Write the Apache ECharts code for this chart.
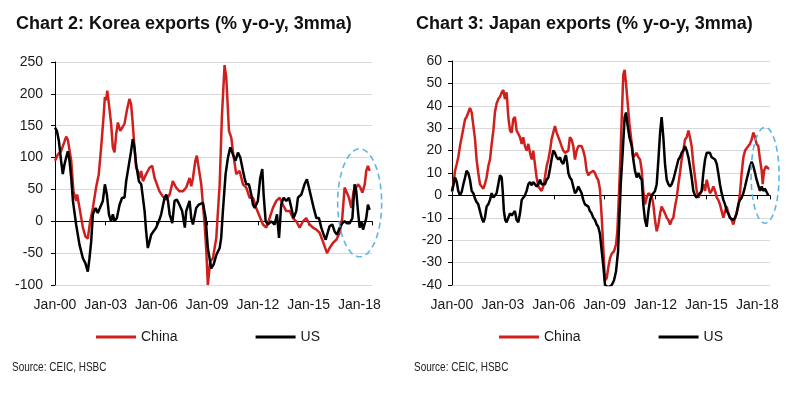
<!DOCTYPE html>
<html>
<head>
<meta charset="utf-8">
<script src="https://cdn.jsdelivr.net/npm/echarts@6/dist/echarts.min.js"></script>
<style>
  html, body { margin: 0; padding: 0; background: #fff; }
  #main { width: 800px; height: 396px; }
</style>
</head>
<body>
<div id="main"></div>
<script>
// tick labels on the time axis (Jan of each year)
var tickYears = [2000, 2003, 2006, 2009, 2012, 2015, 2018];

// Chart 2: Korea exports, [year, % y-o-y 3mma]
var koreaChina = [
  [2000.0,95],[2000.17,105],[2000.36,110],[2000.56,125],[2000.66,133],[2000.76,128],[2000.96,95],
  [2001.09,47],[2001.25,32],[2001.31,42],[2001.45,21],[2001.65,-10],[2001.8,-24],[2001.94,-27],
  [2002.08,0],[2002.24,21],[2002.43,53],[2002.59,74],[2002.73,116],[2002.87,163],[2002.95,195],
  [2003.03,190],[2003.09,205],[2003.19,184],[2003.32,153],[2003.42,116],[2003.52,108],[2003.62,137],
  [2003.72,155],[2003.86,142],[2003.97,145],[2004.11,153],[2004.25,174],[2004.4,192],[2004.5,184],
  [2004.6,153],[2004.7,116],[2004.8,84],[2004.9,79],[2005.0,68],[2005.1,79],[2005.2,63],[2005.39,74],
  [2005.59,84],[2005.75,87],[2005.89,68],[2006.03,58],[2006.18,47],[2006.38,39],[2006.58,34],
  [2006.78,42],[2006.97,63],[2007.07,60],[2007.16,53],[2007.36,47],[2007.56,47],[2007.76,53],
  [2007.96,68],[2008.06,55],[2008.16,68],[2008.3,95],[2008.39,103],[2008.65,58],[2008.85,-5],
  [2008.95,-47],[2009.04,-100],[2009.18,-63],[2009.34,-58],[2009.54,-26],[2009.74,58],[2009.87,163],
  [2010.03,245],[2010.13,226],[2010.29,142],[2010.43,131],[2010.52,110],[2010.72,74],[2010.92,79],
  [2011.12,58],[2011.31,53],[2011.51,37],[2011.71,37],[2011.9,21],[2012.1,8],[2012.3,-5],[2012.5,-10],
  [2012.69,5],[2012.89,21],[2013.09,32],[2013.29,37],[2013.48,26],[2013.68,16],[2013.88,16],
  [2014.07,5],[2014.27,0],[2014.47,-10],[2014.67,0],[2014.86,5],[2015.06,-5],[2015.26,-10],
  [2015.46,-13],[2015.65,-18],[2015.85,-32],[2016.09,-50],[2016.24,-42],[2016.44,-34],[2016.64,-29],
  [2016.84,-18],[2016.99,5],[2017.13,53],[2017.23,55],[2017.39,37],[2017.53,21],[2017.66,47],
  [2017.82,53],[2017.92,58],[2018.06,53],[2018.18,45],[2018.32,58],[2018.41,79],[2018.51,87],[2018.61,79]
];
var koreaUS = [
  [2000.0,147],[2000.11,142],[2000.23,126],[2000.36,95],[2000.46,74],[2000.56,89],[2000.66,100],
  [2000.76,110],[2000.86,95],[2000.96,68],[2001.06,32],[2001.25,-5],[2001.45,-37],[2001.65,-58],
  [2001.8,-66],[2001.94,-79],[2002.04,-58],[2002.14,-32],[2002.24,11],[2002.4,21],[2002.53,13],
  [2002.63,11],[2002.83,32],[2002.95,58],[2003.07,42],[2003.19,11],[2003.32,0],[2003.42,11],
  [2003.52,0],[2003.66,5],[2003.82,26],[2003.97,37],[2004.11,37],[2004.21,63],[2004.37,89],
  [2004.5,110],[2004.6,129],[2004.7,116],[2004.8,89],[2004.96,63],[2005.1,58],[2005.2,37],
  [2005.3,16],[2005.39,-16],[2005.49,-42],[2005.59,-32],[2005.69,-21],[2005.82,-16],[2005.98,-10],
  [2006.14,0],[2006.28,11],[2006.48,37],[2006.58,42],[2006.68,32],[2006.78,11],[2006.94,-3],
  [2007.07,32],[2007.21,34],[2007.36,26],[2007.52,16],[2007.68,-10],[2007.76,16],[2007.96,32],
  [2008.06,5],[2008.16,-5],[2008.35,21],[2008.5,26],[2008.75,29],[2008.91,5],[2009.04,-42],
  [2009.14,-58],[2009.24,-74],[2009.38,-68],[2009.54,-53],[2009.74,-42],[2009.83,-26],[2009.93,16],
  [2010.09,74],[2010.23,100],[2010.37,116],[2010.52,105],[2010.68,95],[2010.82,108],[2010.96,100],
  [2011.12,79],[2011.21,68],[2011.31,58],[2011.47,58],[2011.61,42],[2011.71,26],[2011.81,21],
  [2012.0,32],[2012.14,68],[2012.26,82],[2012.34,42],[2012.46,0],[2012.6,-5],[2012.79,0],
  [2012.99,-5],[2013.13,11],[2013.25,-26],[2013.38,26],[2013.52,37],[2013.68,32],[2013.84,37],
  [2013.98,21],[2014.11,5],[2014.27,16],[2014.37,37],[2014.57,42],[2014.76,58],[2014.9,66],
  [2015.02,53],[2015.16,37],[2015.3,21],[2015.46,5],[2015.61,5],[2015.75,-10],[2015.89,-21],
  [2016.01,-29],[2016.15,-16],[2016.24,-8],[2016.4,-5],[2016.54,-16],[2016.68,-21],[2016.84,-10],
  [2016.99,-3],[2017.13,0],[2017.27,-3],[2017.43,-3],[2017.59,5],[2017.72,58],[2017.82,47],
  [2017.92,16],[2018.02,-10],[2018.12,0],[2018.22,-13],[2018.32,-10],[2018.41,5],[2018.51,26],[2018.61,18]
];

// Chart 3: Japan exports, [year, % y-o-y 3mma]
var japanChina = [
  [2000.0,1.5],[2000.08,5],[2000.18,11],[2000.28,14],[2000.37,17],[2000.47,22],[2000.57,26],
  [2000.67,30],[2000.77,34],[2000.86,35],[2000.96,37],[2001.06,39],[2001.16,37],[2001.26,31],
  [2001.36,25],[2001.45,16],[2001.55,10],[2001.65,5],[2001.75,4],[2001.85,3],[2001.94,5],
  [2002.04,8],[2002.14,13],[2002.24,16],[2002.34,23],[2002.44,29],[2002.53,37],[2002.63,41],
  [2002.73,43],[2002.83,44],[2002.93,46],[2003.03,47],[2003.12,43],[2003.22,46],[2003.32,35],
  [2003.42,29],[2003.52,28],[2003.61,34],[2003.71,35],[2003.81,29],[2003.91,29],[2004.01,26],
  [2004.11,23],[2004.2,26],[2004.3,22],[2004.4,20],[2004.5,23],[2004.6,19],[2004.7,16],[2004.79,20],
  [2004.89,14],[2004.99,8],[2005.09,4],[2005.19,4],[2005.28,2],[2005.38,4],[2005.48,8],[2005.58,13],
  [2005.68,16],[2005.78,20],[2005.87,25],[2005.97,28],[2006.07,31],[2006.17,28],[2006.27,26],
  [2006.37,24],[2006.46,22],[2006.56,20],[2006.66,19],[2006.76,19],[2006.86,20],[2006.95,26],
  [2007.05,25],[2007.15,22],[2007.25,16],[2007.35,20],[2007.45,22],[2007.54,22],[2007.64,22],
  [2007.74,20],[2007.84,17],[2007.94,11],[2008.04,9],[2008.13,10],[2008.23,10],[2008.33,11],
  [2008.43,10],[2008.53,8],[2008.62,7],[2008.72,3],[2008.83,-10],[2008.93,-25],[2009.02,-38],
  [2009.12,-37],[2009.22,-32],[2009.32,-28],[2009.42,-26],[2009.55,-25],[2009.67,-22],[2009.75,-16],
  [2009.83,-2],[2009.91,13],[2010.01,35],[2010.1,54],[2010.18,56],[2010.26,50],[2010.34,43],
  [2010.46,32],[2010.6,23],[2010.69,17],[2010.79,17],[2010.89,19],[2010.99,17],[2011.09,16],
  [2011.19,11],[2011.28,2],[2011.38,-4],[2011.48,-1],[2011.58,1],[2011.68,1.5],[2011.77,0],
  [2011.87,-4],[2011.97,-11],[2012.07,-16],[2012.17,-13],[2012.27,-8],[2012.36,-5],[2012.46,-5],
  [2012.56,-8],[2012.66,-10],[2012.76,-11],[2012.86,-13],[2012.95,-11],[2013.05,-10],[2013.15,-5],
  [2013.25,-1],[2013.35,5],[2013.44,10],[2013.54,16],[2013.64,20],[2013.74,25],[2013.84,26],
  [2013.94,29],[2014.03,26],[2014.13,22],[2014.23,14],[2014.33,8],[2014.43,2],[2014.53,-1],
  [2014.62,-1],[2014.72,2],[2014.82,5],[2014.92,2],[2015.02,7],[2015.11,4],[2015.21,1],[2015.31,2],
  [2015.41,4],[2015.51,2],[2015.61,-1],[2015.7,-2],[2015.8,-4],[2015.9,-7],[2016.0,-10],[2016.1,-7],
  [2016.2,-5],[2016.29,-8],[2016.39,-10],[2016.49,-11],[2016.59,-13],[2016.69,-10],[2016.78,-8],
  [2016.88,-5],[2016.98,1],[2017.08,10],[2017.18,17],[2017.28,20],[2017.37,20],[2017.47,22],
  [2017.57,23],[2017.67,25],[2017.77,28],[2017.87,26],[2017.96,23],[2018.06,22],[2018.16,16],
  [2018.26,11],[2018.32,5],[2018.4,11],[2018.51,13],[2018.65,12],[2018.71,12]
];
var japanUS = [
  [2000.0,2],[2000.08,4.5],[2000.18,8],[2000.28,6],[2000.37,2],[2000.47,0],[2000.57,1.5],[2000.67,5],
  [2000.77,8],[2000.86,11],[2000.96,10],[2001.06,7],[2001.16,2],[2001.26,1],[2001.36,-1.5],
  [2001.45,-3],[2001.55,-4],[2001.65,-7],[2001.75,-10],[2001.85,-12],[2001.94,-10],[2002.04,-5],
  [2002.14,-4],[2002.24,-2],[2002.34,1],[2002.44,-1],[2002.53,-1.5],[2002.63,1],[2002.73,5],
  [2002.83,9],[2002.93,8],[2002.99,2],[2003.06,-7],[2003.14,-11],[2003.22,-12],[2003.32,-10],
  [2003.42,-8],[2003.52,-9],[2003.61,-8],[2003.71,-7],[2003.81,-11],[2003.91,-12],[2004.01,-8],
  [2004.11,-2],[2004.2,-1],[2004.3,0],[2004.4,2],[2004.5,5],[2004.6,6],[2004.7,4.5],[2004.79,6],
  [2004.89,5],[2004.99,4],[2005.09,5],[2005.19,7],[2005.28,5],[2005.38,4.5],[2005.48,5],[2005.58,7],
  [2005.68,8],[2005.78,12],[2005.87,16],[2005.97,20],[2006.07,19],[2006.17,17],[2006.27,16],
  [2006.37,17],[2006.46,15],[2006.56,14],[2006.66,17],[2006.72,18],[2006.8,14],[2006.86,10],
  [2006.95,8],[2007.05,7],[2007.15,4],[2007.25,1],[2007.35,2],[2007.45,4],[2007.54,4.5],[2007.64,1],
  [2007.74,-2],[2007.84,-4],[2007.94,-4],[2008.04,-5],[2008.13,-7],[2008.23,-8],[2008.33,-10],
  [2008.43,-11],[2008.53,-13],[2008.62,-14],[2008.72,-17],[2008.83,-25],[2008.93,-32],[2009.02,-40],
  [2009.22,-41],[2009.42,-40],[2009.55,-38],[2009.67,-34],[2009.79,-25],[2009.87,-10],[2009.95,5],
  [2010.07,20],[2010.18,35],[2010.26,37],[2010.34,32],[2010.46,26],[2010.6,22],[2010.69,16],
  [2010.79,11],[2010.89,8],[2010.99,10],[2011.09,8],[2011.19,7],[2011.28,-4],[2011.38,-11],
  [2011.48,-14],[2011.58,-7],[2011.68,-2],[2011.77,0],[2011.87,1],[2011.97,2],[2012.07,5],
  [2012.17,16],[2012.27,28],[2012.36,35],[2012.46,26],[2012.56,14],[2012.66,7],[2012.76,5],
  [2012.86,4],[2012.95,5],[2013.05,7],[2013.15,10],[2013.25,13],[2013.35,16],[2013.44,17],
  [2013.54,19],[2013.64,20],[2013.74,22],[2013.84,20],[2013.94,17],[2014.03,13],[2014.13,8],
  [2014.23,2],[2014.33,0],[2014.43,-1],[2014.53,-1],[2014.62,1],[2014.72,2],[2014.82,10],
  [2014.92,16],[2015.02,19],[2015.11,19],[2015.21,19],[2015.31,17],[2015.41,17],[2015.51,16],
  [2015.61,14],[2015.7,10],[2015.8,5],[2015.9,1],[2016.0,-2],[2016.1,-4],[2016.2,-7],[2016.29,-8],
  [2016.39,-10],[2016.49,-10],[2016.59,-11],[2016.69,-10],[2016.78,-8],[2016.88,-4],[2016.98,-2],
  [2017.08,-1],[2017.18,1],[2017.28,4],[2017.37,7],[2017.47,10],[2017.57,13],[2017.67,15],
  [2017.77,13],[2017.87,10],[2017.96,7],[2018.06,4.5],[2018.16,2],[2018.26,4],[2018.35,2],
  [2018.45,3],[2018.55,1.5],[2018.65,0]
];

var RED = '#d0201e';
var FONT = "'Liberation Sans', Arial, sans-serif";
var X_MIN = 2000, X_MAX = 2018.75;

var chart = echarts.init(document.getElementById('main'), null, { renderer: 'canvas' });

function yearLabel(v) {
  var r = Math.round(v);
  if (Math.abs(v - r) > 0.01 || tickYears.indexOf(r) < 0) return '';
  var yy = r % 100;
  return 'Jan-' + (yy < 10 ? '0' + yy : '' + yy);
}

function xAxesFor(gi) {
  return [
    { // bottom labels
      gridIndex: gi, type: 'value', min: X_MIN, max: X_MAX, interval: 3, position: 'bottom',
      axisLine: { show: false, onZero: false }, axisTick: { show: false }, splitLine: { show: false },
      axisLabel: { formatter: yearLabel, showMaxLabel: false, fontSize: 14, fontFamily: FONT, color: '#1a1a1a', margin: 13 }
    },
    { // zero line with small ticks
      gridIndex: gi, type: 'value', min: X_MIN, max: X_MAX, interval: 3, position: 'top',
      axisLine: { onZero: true, lineStyle: { color: '#000', width: 1 } },
      axisTick: { inside: true, length: 4, lineStyle: { color: '#000' } },
      axisLabel: { show: false }, splitLine: { show: false }
    }
  ];
}

function yAxisFor(gi, min, max, step, margin) {
  return {
    gridIndex: gi, type: 'value', min: min, max: max, interval: step,
    axisLine: { show: true, onZero: false, lineStyle: { color: '#000', width: 1 } },
    axisTick: { show: true, length: 4, lineStyle: { color: '#000' } },
    axisLabel: { fontSize: 14, fontFamily: FONT, color: '#1a1a1a', margin: margin },
    splitLine: { lineStyle: { color: '#d9d9d9', width: 1 } }
  };
}

function lineSeries(name, data, color, xi, yi) {
  return {
    name: name, type: 'line', data: data, xAxisIndex: xi, yAxisIndex: yi,
    showSymbol: false, symbol: 'none', smooth: false, silent: true, animation: false,
    lineStyle: { color: color, width: 2.5 }, itemStyle: { color: color }
  };
}

function legendAt(left) {
  return {
    left: left, top: 325, data: ['China', 'US'], selectedMode: false,
    icon: 'rect', itemWidth: 40, itemHeight: 3, itemGap: 78,
    textStyle: { fontSize: 14, fontFamily: FONT, color: '#1a1a1a' }
  };
}

var titleStyle = { fontSize: 18, fontWeight: 'bold', fontFamily: FONT, color: '#111' };
var sourceStyle = { text: 'Source: CEIC, HSBC', fontSize: 10, fontFamily: FONT, fill: '#222' };

chart.setOption({
  backgroundColor: '#fff',
  animation: false,
  title: [
    { text: 'Chart 2: Korea exports (% y-o-y, 3mma)', left: 11, top: 10, textStyle: titleStyle },
    { text: 'Chart 3: Japan exports (% y-o-y, 3mma)', left: 411, top: 10, textStyle: titleStyle }
  ],
  legend: [legendAt(91), legendAt(494)],
  grid: [
    { left: 55, top: 62, width: 317, height: 223 },
    { left: 452, top: 61, width: 318, height: 224 }
  ],
  xAxis: xAxesFor(0).concat(xAxesFor(1)),
  yAxis: [yAxisFor(0, -100, 250, 50, 12), yAxisFor(1, -40, 60, 10, 10)],
  series: [
    lineSeries('China', koreaChina, RED, 0, 0),
    lineSeries('US', koreaUS, '#000', 0, 0),
    lineSeries('China', japanChina, RED, 2, 1),
    lineSeries('US', japanUS, '#000', 2, 1)
  ]
});

// dashed highlight ellipses around the latest readings
function ellipsePoints(c, rx, ry) {
  var pts = [];
  for (var i = 0; i < 72; i++) {
    var a = i / 72 * Math.PI * 2;
    pts.push([c[0] + rx * Math.cos(a), c[1] + ry * Math.sin(a)]);
  }
  return pts;
}
var c1 = chart.convertToPixel({ seriesIndex: 0 }, [2018.02, 29]);
var c2 = chart.convertToPixel({ seriesIndex: 2 }, [2018.46, 9]);
var dashStyle = { fill: 'none', stroke: '#5db6e6', lineWidth: 1.6, lineDash: [6, 4] };

chart.setOption({
  graphic: [
    { type: 'polygon', shape: { points: ellipsePoints(c1, 22, 54) }, style: dashStyle, z: 10, silent: true },
    { type: 'polygon', shape: { points: ellipsePoints(c2, 14, 48) }, style: dashStyle, z: 10, silent: true },
    { type: 'text', left: 12, top: 362, scaleY: 1.2, style: sourceStyle },
    { type: 'text', left: 414, top: 362, scaleY: 1.2, style: sourceStyle }
  ]
});
</script>
</body>
</html>
